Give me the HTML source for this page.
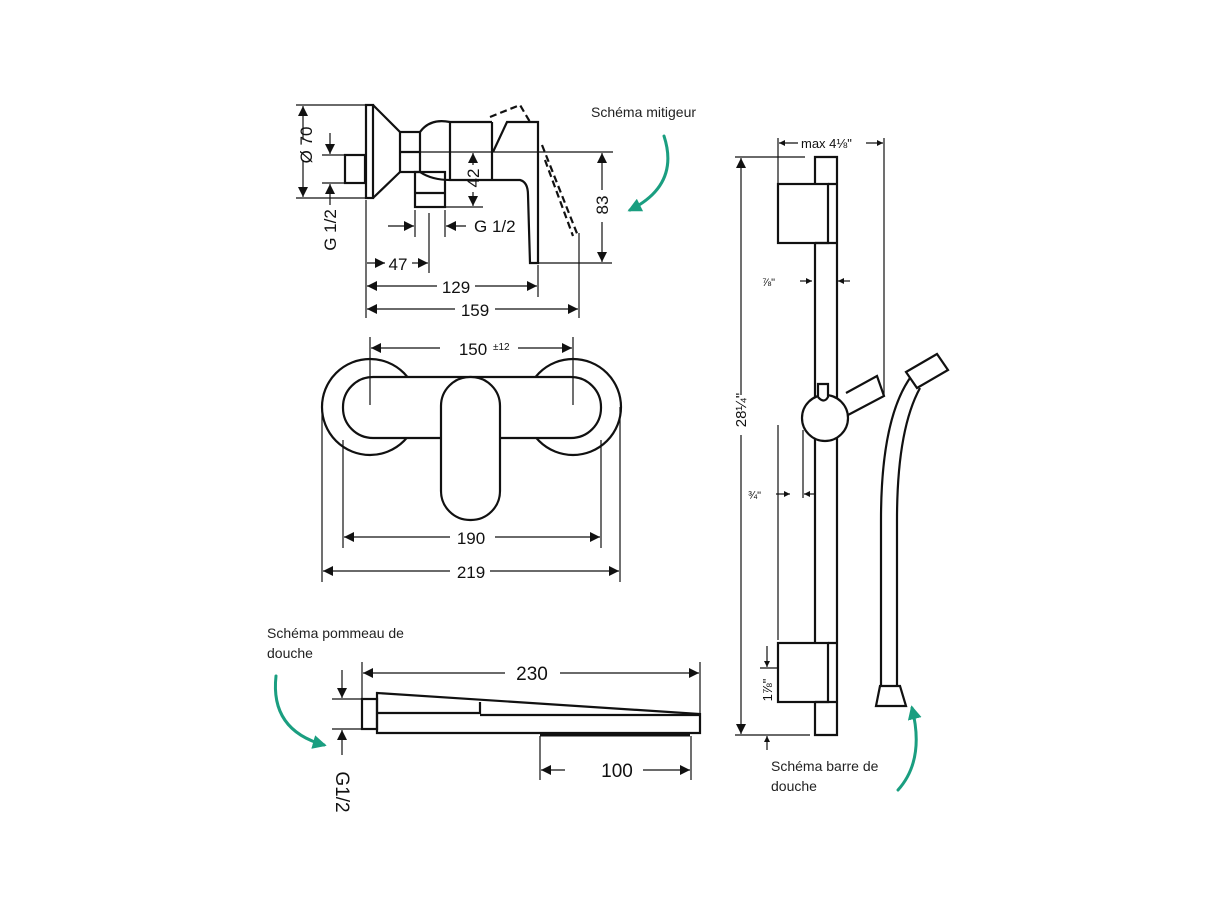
<!DOCTYPE html>
<html><head><meta charset="utf-8"><style>
html,body{margin:0;padding:0;background:#fff;}
svg{display:block;font-family:"Liberation Sans",sans-serif;}
</style></head><body>
<svg width="1221" height="915" viewBox="0 0 1221 915" xmlns="http://www.w3.org/2000/svg">
<defs>
<marker id="a" viewBox="0 0 10 10" refX="10" refY="5" markerWidth="11" markerHeight="10" markerUnits="userSpaceOnUse" orient="auto-start-reverse"><path d="M0,0 L10,5 L0,10z" fill="#111"/></marker>
<marker id="s" viewBox="0 0 10 10" refX="10" refY="5" markerWidth="7" markerHeight="6" markerUnits="userSpaceOnUse" orient="auto-start-reverse"><path d="M0,0 L10,5 L0,10z" fill="#111"/></marker>
<marker id="g" viewBox="0 0 10 10" refX="8" refY="5" markerWidth="14" markerHeight="14" markerUnits="userSpaceOnUse" orient="auto"><path d="M0,0 L10,5 L0,10z" fill="#1a9e80"/></marker>
</defs>
<rect width="1221" height="915" fill="#fff"/>
<g fill="none" stroke="#111" stroke-width="2.2">
<rect x="366" y="105" width="7" height="93"/>
<path d="M373,105 L400,132 M373,198 L400,172"/>
<rect x="345" y="155" width="20" height="28"/>
<rect x="400" y="132" width="20" height="40"/>
<path d="M400,152 H420"/>
<path d="M420,132 Q430,118 450,122 H492 M420,172 Q432,180 450,180 H492 M450,122 V180"/>
<rect x="415" y="172" width="30" height="35"/>
<path d="M415,193 H445"/>
<path d="M492,122 V180 M492,180 H520 Q528,182 528,195 L530,263 H538 V122 H507 L493,152"/>
<path d="M490,117 L520,105 L530,122 M542,145 L578,236 M545,160 L573,236" stroke-dasharray="7,4"/>
</g>
<g fill="none" stroke="#111" stroke-width="1.2">
<path d="M296,105 H372 M296,198 H366 M322,155 H345 M322,183 H345 M420,152 H613 M445,207 H483 M538,263 H612"/>
<path d="M366,200 V318 M429,213 V273 M538,265 V297 M579,233 V318 M415,210 V237 M445,210 V237"/>
<path d="M303,140 V106" marker-end="url(#a)"/><path d="M303,160 V197" marker-end="url(#a)"/>
<path d="M330,133 V154" marker-end="url(#a)"/><path d="M330,205 V184" marker-end="url(#a)"/>
<path d="M473,165 V153" marker-end="url(#a)"/><path d="M473,192 V206" marker-end="url(#a)"/>
<path d="M602,190 V153" marker-end="url(#a)"/><path d="M602,222 V262" marker-end="url(#a)"/>
<path d="M388,226 H414" marker-end="url(#a)"/><path d="M466,226 H446" marker-end="url(#a)"/>
<path d="M385,263 H367" marker-start="url(#a)"/><path d="M412,263 H428" marker-end="url(#a)"/>
<path d="M367,286 H437" marker-start="url(#a)"/><path d="M475,286 H537" marker-end="url(#a)"/>
<path d="M367,309 H455" marker-start="url(#a)"/><path d="M495,309 H578" marker-end="url(#a)"/>
</g>
<g font-size="17" fill="#111">
<text transform="translate(312,145) rotate(-90)" text-anchor="middle">Ø 70</text>
<text transform="translate(336,230) rotate(-90)" text-anchor="middle">G 1/2</text>
<text transform="translate(479,178) rotate(-90)" text-anchor="middle">42</text>
<text transform="translate(608,205) rotate(-90)" text-anchor="middle">83</text>
<text x="474" y="232">G 1/2</text>
<text x="398" y="270" text-anchor="middle">47</text>
<text x="456" y="293" text-anchor="middle">129</text>
<text x="475" y="316" text-anchor="middle">159</text>
</g>
<!-- front view -->
<g fill="none" stroke="#111" stroke-width="2.2">
<circle cx="370" cy="407" r="48"/>
<circle cx="573" cy="407" r="48"/>
<rect x="343" y="377" width="258" height="61" rx="30" fill="#fff"/>
<rect x="441" y="377" width="59" height="143" rx="29" fill="#fff"/>
</g>
<g fill="none" stroke="#111" stroke-width="1.2">
<path d="M370,337 V405 M573,337 V405 M343,440 V548 M601,440 V548 M322,407 V582 M620,407 V582"/>
<path d="M440,348 H371" marker-end="url(#a)"/><path d="M518,348 H572" marker-end="url(#a)"/>
<path d="M450,537 H344" marker-end="url(#a)"/><path d="M495,537 H600" marker-end="url(#a)"/>
<path d="M450,571 H323" marker-end="url(#a)"/><path d="M490,571 H619" marker-end="url(#a)"/>
</g>
<g font-size="17" fill="#111">
<text x="473" y="355" text-anchor="middle">150</text><text x="493" y="350" font-size="10">±12</text>
<text x="471" y="544" text-anchor="middle">190</text>
<text x="471" y="578" text-anchor="middle">219</text>
</g>
<!-- shower head -->
<g fill="none" stroke="#111" stroke-width="2.2">
<rect x="362" y="699" width="15" height="30"/>
<path d="M377,693 L700,714 V733 H377 Z"/>
<path d="M377,713 H480 V702 M480,715 H700"/>
<path d="M540,735 H690" stroke-width="3"/>
</g>
<g fill="none" stroke="#111" stroke-width="1.2">
<path d="M362,662 V730 M700,662 V714 M540,736 V780 M691,736 V780 M332,699 H362 M332,729 H362"/>
<path d="M505,673 H363" marker-end="url(#a)"/><path d="M560,673 H699" marker-end="url(#a)"/>
<path d="M565,770 H541" marker-end="url(#a)"/><path d="M643,770 H690" marker-end="url(#a)"/>
<path d="M342,670 V698" marker-end="url(#a)"/><path d="M342,755 V730" marker-end="url(#a)"/>
</g>
<g font-size="19" fill="#111">
<text x="532" y="680" text-anchor="middle">230</text>
<text x="617" y="777" text-anchor="middle">100</text>
<text transform="translate(336,792) rotate(90)" text-anchor="middle">G1/2</text>
</g>
<!-- shower bar -->
<g fill="none" stroke="#111" stroke-width="2.2">
<path d="M815,184 V157 H837 V735 H815 V702 M815,643 V243"/>
<rect x="778" y="184" width="50" height="59"/>
<path d="M828,184 H837 M815,243 H837"/>
<rect x="778" y="643" width="50" height="59"/>
<path d="M828,643 H837 M815,702 H837"/>
<path d="M846,393 L877,376 L884,396 L848,415"/>
<circle cx="825" cy="418" r="23" fill="#fff"/>
<path d="M818,397 V384 H828 V397 Q824,404 818,397" fill="#fff"/>
<path d="M881,686 V520 Q881,420 910,378 M897,686 V520 Q897,430 920,388"/>
<path d="M906,372 L937,354 L948,370 L917,388 Z"/>
<path d="M880,686 H900 L906,706 H876 Z"/>
</g>
<g fill="none" stroke="#111" stroke-width="1.2">
<path d="M735,157 H805 M735,735 H810 M760,668 H778 M778,138 V184 M884,138 V395 M778,425 V640 M803,430 V498"/>
<path d="M741,395 V158" marker-end="url(#a)"/><path d="M741,435 V734" marker-end="url(#a)"/>
<path d="M798,143 H779" marker-end="url(#s)"/><path d="M866,143 H883" marker-end="url(#s)"/>
<path d="M800,281 H812" marker-end="url(#s)"/><path d="M850,281 H838" marker-end="url(#s)"/>
<path d="M776,494 H790" marker-end="url(#s)"/><path d="M816,494 H804" marker-end="url(#s)"/>
<path d="M767,646 V667" marker-end="url(#s)"/><path d="M767,750 V736" marker-end="url(#s)"/>
</g>
<g font-size="13" fill="#111">
<text x="801" y="148">max 4⅛"</text>
<text x="762" y="286" font-size="11">⅞"</text>
<text x="748" y="499" font-size="11">¾"</text>
<text transform="translate(746,410) rotate(-90)" text-anchor="middle" font-size="15">28¼"</text>
<text transform="translate(772,690) rotate(-90)" text-anchor="middle" font-size="13">1⅞"</text>
</g>
<g font-size="14" fill="#222">
<text x="591" y="117">Schéma mitigeur</text>
<text x="267" y="638">Schéma pommeau de</text>
<text x="267" y="658">douche</text>
<text x="771" y="771">Schéma barre de</text>
<text x="771" y="791">douche</text>
</g>
<g fill="none" stroke="#1a9e80" stroke-width="3" stroke-linecap="round">
<path d="M664,136 Q680,185 630,210" marker-end="url(#g)"/>
<path d="M276,676 Q270,730 324,745" marker-end="url(#g)"/>
<path d="M898,790 Q925,760 912,708" marker-end="url(#g)"/>
</g>
</svg>
</body></html>
